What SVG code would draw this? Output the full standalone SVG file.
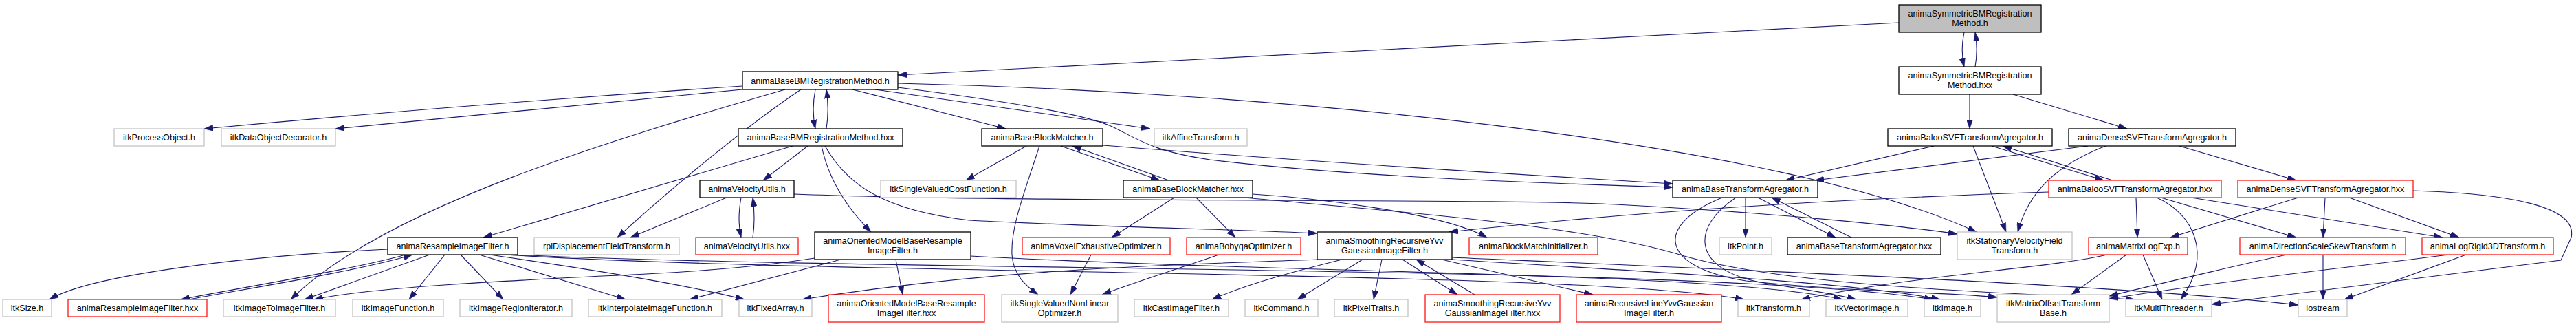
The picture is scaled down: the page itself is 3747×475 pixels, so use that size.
<svg xmlns="http://www.w3.org/2000/svg" width="3747" height="475" viewBox="0 0 3747 475">
<style>
rect{fill:#fff;stroke-width:1}
.b{stroke:#000;stroke-width:1.3}
.g{stroke:#bfbfbf;stroke-width:1.2}
.r{stroke:#ff0000;stroke-width:1.2}
.top{fill:#bfbfbf}
text{font-family:"Liberation Sans",Arial,Helvetica,sans-serif;font-size:12.6px;text-anchor:middle;fill:#000}
#edges path{fill:none;stroke:#191970;stroke-width:1.1;marker-end:url(#ah)}
</style>
<defs>
<marker id="ah" markerUnits="userSpaceOnUse" markerWidth="13" markerHeight="9" refX="13" refY="4.5" orient="auto">
<path d="M0,0 L13,4.5 L0,9 z" fill="#191970" stroke="#191970" stroke-width="0.5"/>
</marker>
</defs>
<rect x="0" y="0" width="3747" height="475" style="fill:#fff;stroke:none"/>
<g id="edges">
<path d="M2762,33 L1306,109"/>
<path d="M2857,47 C2853,65 2853,80 2857,97"/>
<path d="M2873,97 C2876,80 2876,65 2873,47"/>
<path d="M2865,137 L2865,187"/>
<path d="M2928,137 L3094,187"/>
<path d="M1080,125 Q700,150 297,187"/>
<path d="M1080,130 L488,187"/>
<path d="M1142,130 C900,200 560,300 423,435"/>
<path d="M1165,130 C1090,180 980,270 898,345"/>
<path d="M1186,130 C1182,150 1182,168 1186,187"/>
<path d="M1202,187 C1205,168 1205,150 1202,130"/>
<path d="M1240,130 L1463,187"/>
<path d="M1273,130 L1673,187"/>
<path d="M1306,127 C1450,145 1580,165 1620,185 C1660,205 1680,220 1760,232 C1950,255 2200,265 2433,272"/>
<path d="M1306,121 C1900,135 2600,210 2875,337"/>
<path d="M1153,212 L703,345"/>
<path d="M1175,212 L1110,262"/>
<path d="M1195,212 C1205,260 1230,300 1267,337"/>
<path d="M1200,212 C1230,265 1280,305 1410,320 C1600,330 1800,333 1916,339"/>
<path d="M1078,287 C1074,310 1074,325 1078,345"/>
<path d="M1095,345 C1098,325 1098,310 1095,287"/>
<path d="M1057,287 L917,345"/>
<path d="M1155,282 C1500,295 2200,288 2350,297 C2600,310 2780,330 2847,340"/>
<path d="M1493,212 L1405,262"/>
<path d="M1512,212 C1490,280 1470,330 1472,370 C1474,400 1492,415 1510,428"/>
<path d="M1543,212 L1687,262"/>
<path d="M1700,262 L1560,212"/>
<path d="M1604,211 Q1900,235 2433,267"/>
<path d="M1708,287 L1617,345"/>
<path d="M1740,287 L1797,345"/>
<path d="M1822,282 C1920,288 2100,310 2163,345"/>
<path d="M1810,287 C2000,305 2300,325 2450,372 C2600,415 2900,425 3105,435"/>
<path d="M1587,370 L1557,428"/>
<path d="M1773,370 C1700,395 1650,410 1603,428"/>
<path d="M564,362 C350,372 130,400 72,435"/>
<path d="M590,370 C520,390 350,418 263,435"/>
<path d="M275,435 C355,420 525,393 600,370"/>
<path d="M625,370 L443,435"/>
<path d="M647,370 L595,435"/>
<path d="M670,370 L732,435"/>
<path d="M697,370 L910,435"/>
<path d="M712,370 C850,390 980,410 1083,435"/>
<path d="M735,370 C1200,400 2300,392 2537,435"/>
<path d="M745,370 C1300,395 2500,385 2812,435"/>
<path d="M1185,375 C1100,388 1000,395 940,398 C800,405 550,415 457,435"/>
<path d="M1223,377 L1003,435"/>
<path d="M1303,377 L1313,428"/>
<path d="M1412,372 C1900,398 2500,395 2680,435"/>
<path d="M1918,377 C1700,385 1450,390 1167,435"/>
<path d="M1952,377 C1900,390 1820,410 1763,435"/>
<path d="M1982,377 L1887,435"/>
<path d="M2010,377 L1998,435"/>
<path d="M2040,377 L2120,428"/>
<path d="M2145,428 L2060,377"/>
<path d="M2097,377 L2317,428"/>
<path d="M2112,377 C2400,395 2700,410 2822,435"/>
<path d="M2112,374 C2600,395 3100,415 3343,443"/>
<path d="M2539,287 L2539,345"/>
<path d="M2557,287 L2670,345"/>
<path d="M2693,345 L2577,287"/>
<path d="M2505,287 C2400,330 2420,390 2540,408 C2700,425 2850,425 2905,432"/>
<path d="M2525,287 C2460,330 2460,390 2560,410 C2620,420 2660,425 2700,435"/>
<path d="M2813,212 L2597,262"/>
<path d="M2870,212 L2918,337"/>
<path d="M2897,212 L3060,262"/>
<path d="M3073,262 L2913,212"/>
<path d="M3037,212 L2640,262"/>
<path d="M3063,212 C2990,240 2950,280 2935,337"/>
<path d="M3170,212 L3340,262"/>
<path d="M2980,279 C2700,288 2400,305 2108,337"/>
<path d="M3107,287 L3109,345"/>
<path d="M3137,287 C3190,310 3220,370 3172,435"/>
<path d="M3143,287 L3340,345"/>
<path d="M3187,287 L3553,345"/>
<path d="M3343,287 L3157,345"/>
<path d="M3382,287 L3379,345"/>
<path d="M3417,287 L3577,345"/>
<path d="M3510,277 C3650,281 3750,300 3740,345 L3725,378 L3217,442"/>
<path d="M3093,370 L3013,428"/>
<path d="M3117,370 L3145,435"/>
<path d="M3065,370 C2980,390 2780,400 2620,435"/>
<path d="M3379,370 L3379,435"/>
<path d="M3327,370 C3300,375 3150,410 3068,430"/>
<path d="M3587,370 L3410,435"/>
<path d="M3562,370 C3450,385 3250,405 3068,434"/>
</g>
<g id="n1"><rect class="b top" x="2762" y="7" width="207" height="40"/><text x="2865.5" y="23.5">animaSymmetricBMRegistration</text><text x="2865.5" y="37.5">Method.h</text></g>
<g id="n2"><rect class="b" x="2762" y="97" width="207" height="40"/><text x="2865.5" y="113.5">animaSymmetricBMRegistration</text><text x="2865.5" y="127.5">Method.hxx</text></g>
<g id="n3"><rect class="b" x="1080" y="104" width="226" height="26"/><text x="1193" y="121.5">animaBaseBMRegistrationMethod.h</text></g>
<g id="n4"><rect class="g" x="166" y="187" width="131" height="25"/><text x="231.5" y="204">itkProcessObject.h</text></g>
<g id="n5"><rect class="g" x="322" y="187" width="166" height="25"/><text x="405" y="204">itkDataObjectDecorator.h</text></g>
<g id="n6"><rect class="b" x="1074" y="187" width="239" height="25"/><text x="1193.5" y="204">animaBaseBMRegistrationMethod.hxx</text></g>
<g id="n7"><rect class="b" x="1428" y="187" width="176" height="25"/><text x="1516" y="204">animaBaseBlockMatcher.h</text></g>
<g id="n8"><rect class="g" x="1679" y="187" width="135" height="25"/><text x="1746.5" y="204">itkAffineTransform.h</text></g>
<g id="n9"><rect class="b" x="2746" y="187" width="239" height="25"/><text x="2865.5" y="204">animaBalooSVFTransformAgregator.h</text></g>
<g id="n10"><rect class="b" x="3009" y="187" width="243" height="25"/><text x="3130.5" y="204">animaDenseSVFTransformAgregator.h</text></g>
<g id="n11"><rect class="b" x="1018" y="262" width="137" height="25"/><text x="1086.5" y="279">animaVelocityUtils.h</text></g>
<g id="n12"><rect class="g" x="1281" y="262" width="197" height="25"/><text x="1379.5" y="279">itkSingleValuedCostFunction.h</text></g>
<g id="n13"><rect class="b" x="1634" y="262" width="188" height="25"/><text x="1728" y="279">animaBaseBlockMatcher.hxx</text></g>
<g id="n14"><rect class="b" x="2433" y="262" width="211" height="25"/><text x="2538.5" y="279">animaBaseTransformAgregator.h</text></g>
<g id="n15"><rect class="r" x="2980" y="262" width="251" height="25"/><text x="3105.5" y="279">animaBalooSVFTransformAgregator.hxx</text></g>
<g id="n16"><rect class="r" x="3255" y="262" width="255" height="25"/><text x="3382.5" y="279">animaDenseSVFTransformAgregator.hxx</text></g>
<g id="n17"><rect class="b" x="564" y="345" width="189" height="25"/><text x="658.5" y="362">animaResampleImageFilter.h</text></g>
<g id="n18"><rect class="g" x="777" y="345" width="211" height="25"/><text x="882.5" y="362">rpiDisplacementFieldTransform.h</text></g>
<g id="n19"><rect class="r" x="1012" y="345" width="149" height="25"/><text x="1086.5" y="362">animaVelocityUtils.hxx</text></g>
<g id="n20"><rect class="b" x="1185" y="337" width="227" height="40"/><text x="1298.5" y="353.5">animaOrientedModelBaseResample</text><text x="1298.5" y="367.5">ImageFilter.h</text></g>
<g id="n21"><rect class="r" x="1487" y="345" width="215" height="25"/><text x="1594.5" y="362">animaVoxelExhaustiveOptimizer.h</text></g>
<g id="n22"><rect class="r" x="1726" y="345" width="166" height="25"/><text x="1809" y="362">animaBobyqaOptimizer.h</text></g>
<g id="n23"><rect class="b" x="1916" y="337" width="196" height="40"/><text x="2014" y="353.5">animaSmoothingRecursiveYvv</text><text x="2014" y="367.5">GaussianImageFilter.h</text></g>
<g id="n24"><rect class="r" x="2137" y="345" width="187" height="25"/><text x="2230.5" y="362">animaBlockMatchInitializer.h</text></g>
<g id="n25"><rect class="g" x="2501" y="345" width="76" height="25"/><text x="2539" y="362">itkPoint.h</text></g>
<g id="n26"><rect class="b" x="2600" y="345" width="223" height="25"/><text x="2711.5" y="362">animaBaseTransformAgregator.hxx</text></g>
<g id="n27"><rect class="g" x="2847" y="337" width="167" height="40"/><text x="2930.5" y="353.5">itkStationaryVelocityField</text><text x="2930.5" y="367.5">Transform.h</text></g>
<g id="n28"><rect class="r" x="3038" y="345" width="144" height="25"/><text x="3110" y="362">animaMatrixLogExp.h</text></g>
<g id="n29"><rect class="r" x="3258" y="345" width="241" height="25"/><text x="3378.5" y="362">animaDirectionScaleSkewTransform.h</text></g>
<g id="n30"><rect class="r" x="3523" y="345" width="191" height="25"/><text x="3618.5" y="362">animaLogRigid3DTransform.h</text></g>
<g id="n31"><rect class="g" x="4" y="435" width="71" height="25"/><text x="39.5" y="452">itkSize.h</text></g>
<g id="n32"><rect class="r" x="99" y="435" width="202" height="25"/><text x="200" y="452">animaResampleImageFilter.hxx</text></g>
<g id="n33"><rect class="g" x="325" y="435" width="163" height="25"/><text x="406.5" y="452">itkImageToImageFilter.h</text></g>
<g id="n34"><rect class="g" x="513" y="435" width="132" height="25"/><text x="579" y="452">itkImageFunction.h</text></g>
<g id="n35"><rect class="g" x="669" y="435" width="163" height="25"/><text x="750.5" y="452">itkImageRegionIterator.h</text></g>
<g id="n36"><rect class="g" x="856" y="435" width="194" height="25"/><text x="953" y="452">itkInterpolateImageFunction.h</text></g>
<g id="n37"><rect class="g" x="1075" y="435" width="106" height="25"/><text x="1128" y="452">itkFixedArray.h</text></g>
<g id="n38"><rect class="r" x="1205" y="428" width="227" height="40"/><text x="1318.5" y="444.5">animaOrientedModelBaseResample</text><text x="1318.5" y="458.5">ImageFilter.hxx</text></g>
<g id="n39"><rect class="g" x="1457" y="428" width="169" height="40"/><text x="1541.5" y="444.5">itkSingleValuedNonLinear</text><text x="1541.5" y="458.5">Optimizer.h</text></g>
<g id="n40"><rect class="g" x="1650" y="435" width="137" height="25"/><text x="1718.5" y="452">itkCastImageFilter.h</text></g>
<g id="n41"><rect class="g" x="1811" y="435" width="106" height="25"/><text x="1864" y="452">itkCommand.h</text></g>
<g id="n42"><rect class="g" x="1941" y="435" width="107" height="25"/><text x="1994.5" y="452">itkPixelTraits.h</text></g>
<g id="n43"><rect class="r" x="2073" y="428" width="196" height="40"/><text x="2171" y="444.5">animaSmoothingRecursiveYvv</text><text x="2171" y="458.5">GaussianImageFilter.hxx</text></g>
<g id="n44"><rect class="r" x="2293" y="428" width="211" height="40"/><text x="2398.5" y="444.5">animaRecursiveLineYvvGaussian</text><text x="2398.5" y="458.5">ImageFilter.h</text></g>
<g id="n45"><rect class="g" x="2528" y="435" width="104" height="25"/><text x="2580" y="452">itkTransform.h</text></g>
<g id="n46"><rect class="g" x="2656" y="435" width="119" height="25"/><text x="2715.5" y="452">itkVectorImage.h</text></g>
<g id="n47"><rect class="g" x="2799" y="435" width="82" height="25"/><text x="2840" y="452">itkImage.h</text></g>
<g id="n48"><rect class="g" x="2905" y="428" width="163" height="40"/><text x="2986.5" y="444.5">itkMatrixOffsetTransform</text><text x="2986.5" y="458.5">Base.h</text></g>
<g id="n49"><rect class="g" x="3092" y="435" width="125" height="25"/><text x="3154.5" y="452">itkMultiThreader.h</text></g>
<g id="n50"><rect class="g" x="3343" y="435" width="71" height="25"/><text x="3378.5" y="452">iostream</text></g>
</svg>
